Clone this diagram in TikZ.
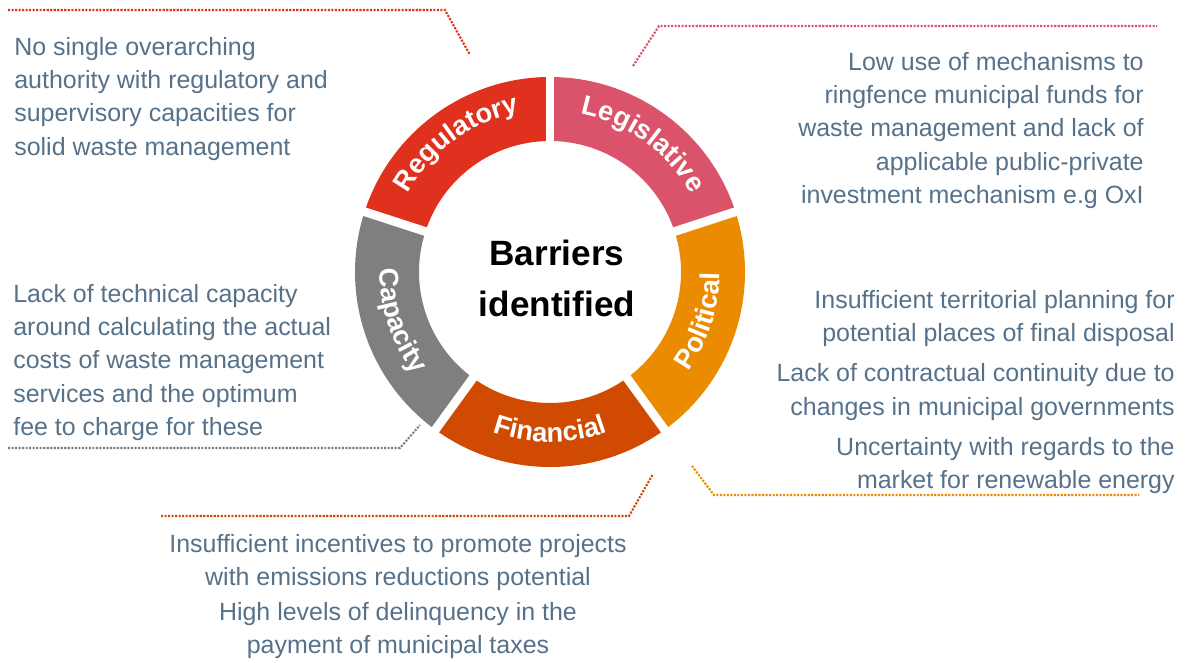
\documentclass[tikz,border=0pt]{standalone}
\usepackage{fontspec}
\setmainfont{Liberation Sans}
\usetikzlibrary{decorations.text}
\definecolor{regul}{HTML}{E0301E}
\definecolor{legis}{HTML}{DB536A}
\definecolor{polit}{HTML}{EB8C00}
\definecolor{finan}{HTML}{D04A02}
\definecolor{capac}{HTML}{7F7F7F}
\definecolor{slate}{HTML}{56718A}
\newcommand{\segfont}{\fontsize{15.5}{18}\selectfont\bfseries}
\begin{document}
\begin{tikzpicture}[
  note/.style={inner sep=0pt, text=slate, font=\fontsize{14.2}{18.9}\selectfont},
  leader/.style={line width=1.2pt, dash pattern=on 1.2pt off 0.8pt},
  seglabel/.style={decorate, decoration={text along path, text align=center, text color=white}}
]
\useasboundingbox (0,0) rectangle (23.7,-13.26);
\coordinate (c) at (11,-5.44);

\begin{scope}[shift={(c)}]
\foreach \a/\col in {162/regul, 90/legis, 18/polit, -54/finan, -126/capac} {
  \fill[\col] (\a:3.9) arc[start angle=\a, end angle=\a-72, radius=3.9]
    -- (\a-72:2.62) arc[start angle=\a-72, end angle=\a, radius=2.62] -- cycle;
}
\foreach \a in {162,90,18,-54,-126} {
  \draw[white, line width=5pt] (\a:2.5) -- (\a:4.0);
}
\path[seglabel, decoration={text={|\segfont|Regulatory}}] (162:3.25) arc[start angle=162, end angle=90, radius=3.25];
\path[seglabel, decoration={text={|\segfont|Legislative}}] (90:3.22) arc[start angle=90, end angle=18, radius=3.22];
\path[seglabel, decoration={text={|\segfont|Political}}] (-54:3.4) arc[start angle=-54, end angle=18, radius=3.4];
\path[seglabel, decoration={text={|\segfont|Financial}}] (-126:3.4) arc[start angle=-126, end angle=-54, radius=3.4];
\path[seglabel, decoration={text={|\segfont|Capacity}}] (162:3.4) arc[start angle=162, end angle=234, radius=3.4];
\end{scope}

\node[font=\fontsize{20}{29}\selectfont\bfseries, align=center, anchor=north, inner sep=0pt] (title) at (11.14,-4.8) {Barriers\\identified};

\node[note, align=left, anchor=north west] (regtext) at (0.28,-0.74) {No single overarching\\authority with regulatory and\\supervisory capacities for\\solid waste management};
\node[note, align=right, anchor=north east] (legtext) at (22.88,-1.04) {Low use of mechanisms to\\ringfence municipal funds for\\waste management and lack of\\applicable public-private\\investment mechanism e.g OxI};
\node[note, align=left, anchor=north west] (captext) at (0.26,-5.68) {Lack of technical capacity\\around calculating the actual\\costs of waste management\\services and the optimum\\fee to charge for these};
\node[note, align=right, anchor=north east] (poltext) at (23.5,-5.8) {Insufficient territorial planning for\\potential places of final disposal\\[4pt]Lack of contractual continuity due to\\changes in municipal governments\\[4pt]Uncertainty with regards to the\\market for renewable energy};
\node[note, align=center, anchor=north] (fintext) at (7.96,-10.68) {Insufficient incentives to promote projects\\with emissions reductions potential\\[1pt]High levels of delinquency in the\\payment of municipal taxes};

\coordinate (reg1) at (0.16,-0.2);
\coordinate (reg2) at (8.9,-0.2);
\coordinate (reg3) at (9.4,-1.1);
\coordinate (leg1) at (12.66,-1.32);
\coordinate (leg2) at (13.18,-0.52);
\coordinate (leg3) at (23.14,-0.52);
\coordinate (cap1) at (0.16,-8.96);
\coordinate (cap2) at (8.0,-8.96);
\coordinate (cap3) at (8.4,-8.5);
\coordinate (fin1) at (3.22,-10.32);
\coordinate (fin2) at (12.58,-10.32);
\coordinate (fin3) at (13.06,-9.48);
\coordinate (pol1) at (13.84,-9.32);
\coordinate (pol2) at (14.28,-9.9);
\coordinate (pol3) at (22.78,-9.9);

\draw[leader, regul] (reg1) -- (reg2) -- (reg3);
\draw[leader, legis] (leg1) -- (leg2) -- (leg3);
\draw[leader, capac] (cap1) -- (cap2) -- (cap3);
\draw[leader, finan] (fin1) -- (fin2) -- (fin3);
\draw[leader, polit] (pol1) -- (pol2) -- (pol3);
\end{tikzpicture}
\end{document}
